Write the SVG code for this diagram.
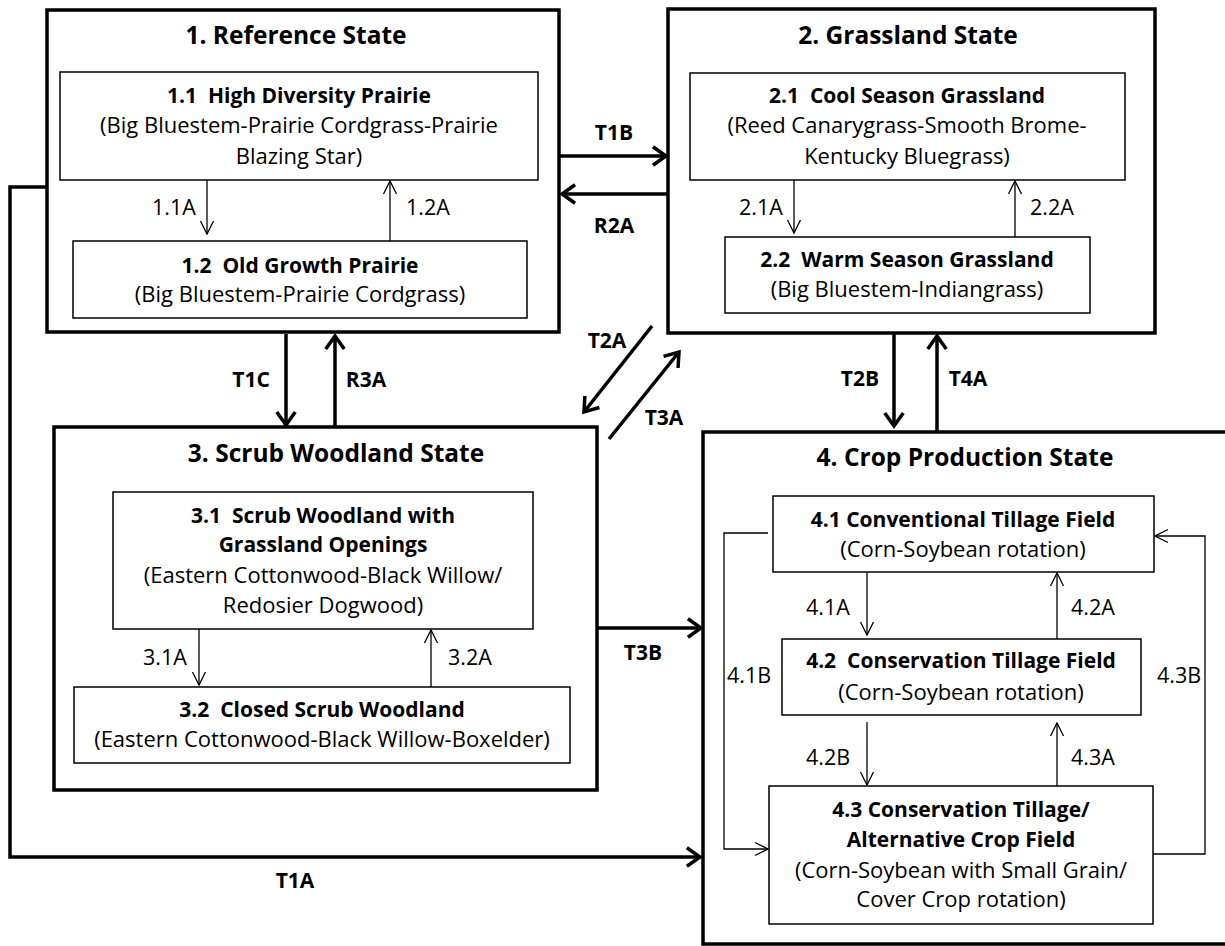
<svg xmlns="http://www.w3.org/2000/svg" width="1225" height="946" viewBox="0 0 1225 946">
<style>
text{font-family:"Open Sans",Lato,"Liberation Sans",sans-serif;fill:#000;text-anchor:middle}
.st{fill:#fff;stroke:#000;stroke-width:3.5}
.sb{fill:#fff;stroke:#000;stroke-width:1.5}
.title{font-size:24.5px;font-weight:bold}
.h{font-size:21px;font-weight:bold}
.d{font-size:22px}
.tl{font-size:21px;font-weight:bold}
.pl{font-size:21.5px}
.thick{fill:none;stroke:#000;stroke-width:3.5;marker-end:url(#ah)}
.thin{fill:none;stroke:#000;stroke-width:1.3;marker-end:url(#as)}
</style>
<defs>
<marker id="ah" markerUnits="userSpaceOnUse" markerWidth="22" markerHeight="24" viewBox="0 0 16 22" refX="14" refY="11" orient="auto"><path d="M2,2.5 L14,11 L2,19.5" fill="none" stroke="#000" stroke-width="3.2"/></marker>
<marker id="as" markerUnits="userSpaceOnUse" markerWidth="16" markerHeight="16" viewBox="0 0 15 16" refX="14" refY="8" orient="auto"><path d="M1,1.5 L14,8 L1,14.5" fill="none" stroke="#000" stroke-width="1.3"/></marker>
</defs>
<rect width="1225" height="946" fill="#fff"/>

<g id="state1">
<rect class="st" x="47" y="10" width="512" height="322"/>
<text class="title" x="296" y="44">1. Reference State</text>
</g>
<g id="n1-1">
<rect class="sb" x="60" y="72" width="478" height="108" stroke-width="2"/>
<text class="h" x="299" y="103" xml:space="preserve">1.1  High Diversity Prairie</text>
<text class="d" x="299" y="133">(Big Bluestem-Prairie Cordgrass-Prairie</text>
<text class="d" x="299" y="164">Blazing Star)</text>
</g>
<g id="n1-2">
<rect class="sb" x="73" y="241" width="454" height="77"/>
<text class="h" x="300" y="273" xml:space="preserve">1.2  Old Growth Prairie</text>
<text class="d" x="300" y="302">(Big Bluestem-Prairie Cordgrass)</text>
</g>

<g id="state2">
<rect class="st" x="668" y="9" width="487" height="324"/>
<text class="title" x="908" y="44">2. Grassland State</text>
</g>
<g id="n2-1">
<rect class="sb" x="690" y="73" width="435" height="107"/>
<text class="h" x="907" y="103" xml:space="preserve">2.1  Cool Season Grassland</text>
<text class="d" x="907" y="133">(Reed Canarygrass-Smooth Brome-</text>
<text class="d" x="907" y="164">Kentucky Bluegrass)</text>
</g>
<g id="n2-2">
<rect class="sb" x="725" y="237" width="365" height="76"/>
<text class="h" x="907" y="267" xml:space="preserve">2.2  Warm Season Grassland</text>
<text class="d" x="907" y="297">(Big Bluestem-Indiangrass)</text>
</g>

<g id="state3">
<rect class="st" x="54" y="427" width="543" height="363"/>
<text class="title" x="336" y="462">3. Scrub Woodland State</text>
</g>
<g id="n3-1">
<rect class="sb" x="113" y="492" width="420" height="137"/>
<text class="h" x="323" y="523" xml:space="preserve">3.1  Scrub Woodland with</text>
<text class="h" x="323" y="552">Grassland Openings</text>
<text class="d" x="323" y="583">(Eastern Cottonwood-Black Willow/</text>
<text class="d" x="323" y="613">Redosier Dogwood)</text>
</g>
<g id="n3-2">
<rect class="sb" x="74" y="687" width="496" height="76"/>
<text class="h" x="322" y="717" xml:space="preserve">3.2  Closed Scrub Woodland</text>
<text class="d" x="322" y="747">(Eastern Cottonwood-Black Willow-Boxelder)</text>
</g>

<g id="state4">
<rect class="st" x="703" y="432" width="540" height="512"/>
<text class="title" x="965" y="466">4. Crop Production State</text>
</g>
<g id="n4-1">
<rect class="sb" x="773" y="496" width="381" height="76"/>
<text class="h" x="963" y="527">4.1 Conventional Tillage Field</text>
<text class="d" x="963" y="557">(Corn-Soybean rotation)</text>
</g>
<g id="n4-2">
<rect class="sb" x="782" y="639" width="359" height="76"/>
<text class="h" x="961" y="668" xml:space="preserve">4.2  Conservation Tillage Field</text>
<text class="d" x="961" y="700">(Corn-Soybean rotation)</text>
</g>
<g id="n4-3">
<rect class="sb" x="769" y="786" width="384" height="138"/>
<text class="h" x="961" y="817">4.3 Conservation Tillage/</text>
<text class="h" x="961" y="847">Alternative Crop Field</text>
<text class="d" x="961" y="878">(Corn-Soybean with Small Grain/</text>
<text class="d" x="961" y="907">Cover Crop rotation)</text>
</g>

<g id="connectors">
<polyline class="thick" points="47,187 10,187 10,857 700,857"/>
<line class="thick" x1="560" y1="156" x2="666" y2="156"/>
<line class="thick" x1="668" y1="194" x2="562" y2="194"/>
<line class="thick" x1="286" y1="334" x2="286" y2="425"/>
<line class="thick" x1="335" y1="427" x2="335" y2="336"/>
<line class="thick" x1="652" y1="326" x2="584" y2="412"/>
<line class="thick" x1="609" y1="439" x2="679" y2="352"/>
<line class="thick" x1="894" y1="334" x2="894" y2="426"/>
<line class="thick" x1="937" y1="432" x2="937" y2="336"/>
<line class="thick" x1="597" y1="628" x2="701" y2="628"/>

<line class="thin" x1="207" y1="180" x2="207" y2="234"/>
<line class="thin" x1="390" y1="241" x2="390" y2="181"/>
<line class="thin" x1="794" y1="180" x2="794" y2="233"/>
<line class="thin" x1="1015" y1="237" x2="1015" y2="181"/>
<line class="thin" x1="199" y1="629" x2="199" y2="685"/>
<line class="thin" x1="431" y1="687" x2="431" y2="630"/>
<line class="thin" x1="867" y1="572" x2="867" y2="635"/>
<line class="thin" x1="1057" y1="639" x2="1057" y2="573"/>
<line class="thin" x1="867" y1="722" x2="867" y2="785"/>
<line class="thin" x1="1057" y1="786" x2="1057" y2="723"/>
<polyline class="thin" points="768,533 724,533 724,849 768,849"/>
<polyline class="thin" points="1153,854 1205,854 1205,536 1155,536"/>

<text class="tl" x="614" y="140">T1B</text>
<text class="tl" x="614" y="233">R2A</text>
<text class="tl" x="251" y="387">T1C</text>
<text class="tl" x="366" y="387">R3A</text>
<text class="tl" x="607" y="348">T2A</text>
<text class="tl" x="664" y="425">T3A</text>
<text class="tl" x="860" y="386">T2B</text>
<text class="tl" x="968" y="386">T4A</text>
<text class="tl" x="643" y="660">T3B</text>
<text class="tl" x="295" y="888">T1A</text>

<text class="pl" x="174" y="215">1.1A</text>
<text class="pl" x="428" y="215">1.2A</text>
<text class="pl" x="761" y="215">2.1A</text>
<text class="pl" x="1052" y="215">2.2A</text>
<text class="pl" x="165" y="665">3.1A</text>
<text class="pl" x="470" y="665">3.2A</text>
<text class="pl" x="828" y="615">4.1A</text>
<text class="pl" x="1093" y="615">4.2A</text>
<text class="pl" x="749" y="683">4.1B</text>
<text class="pl" x="1179" y="683">4.3B</text>
<text class="pl" x="828" y="765">4.2B</text>
<text class="pl" x="1093" y="765">4.3A</text>
</g>
</svg>
